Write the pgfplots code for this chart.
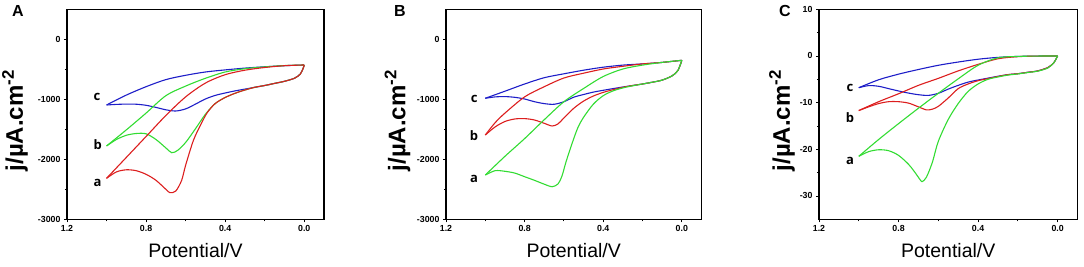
\documentclass[border=0pt]{standalone}
\usepackage{fontspec}
\setmainfont{Liberation Sans}
\newfontfamily\lblfont{Open Sans}
\usepackage{pgfplots}
\pgfplotsset{compat=1.18}
\definecolor{cvred}{RGB}{220,30,30}
\definecolor{cvgreen}{RGB}{50,220,50}
\definecolor{cvblue}{RGB}{30,30,200}
\pgfplotsset{
 cvaxis/.style={
  scale only axis, height=210pt,
  x dir=reverse, xmin=-0.1, xmax=1.2,
  xtick={0,0.4,0.8,1.2}, minor x tick num=1, minor y tick num=1,
  xtick pos=left, ytick pos=left,
  tick align=outside, major tick length=3pt, minor tick length=2pt,
  every tick/.style={black, line width=0.9pt},
  axis line style={line width=1.2pt},
  tick label style={font=\fontsize{8.8}{10}\selectfont\bfseries},
  /pgf/number format/assume math mode=true,
  xticklabel style={/pgf/number format/.cd, fixed, fixed zerofill, precision=1},
  yticklabel style={/pgf/number format/.cd, 1000 sep={}},
  xlabel={Potential/V},
  xlabel style={font=\fontsize{19.5}{22}\selectfont, at={(axis description cs:0.5,0)}, anchor=base, yshift=-38pt},
  ylabel={j/µA.cm\textsuperscript{-2}},
  ylabel style={font=\fontsize{24}{26}\selectfont\bfseries, anchor=center},
  every axis plot/.append style={smooth, line width=1.1pt, mark=none},
 },
}
\tikzset{lbl/.style={font=\lblfont\bfseries\fontsize{13}{15}\selectfont}}
\begin{document}
\begin{tikzpicture}
\useasboundingbox (0,0) rectangle (1084pt,267pt);
\node[font=\bfseries\fontsize{16}{18}\selectfont] at (18pt,256pt) {A};
\node[font=\bfseries\fontsize{16}{18}\selectfont] at (400pt,256pt) {B};
\node[font=\bfseries\fontsize{16}{18}\selectfont] at (785pt,256pt) {C};
% ---------------- Panel A
\begin{axis}[cvaxis, at={(67pt,47.7pt)}, anchor=south west, width=257pt,
  ymin=-3000, ymax=500, ytick={-3000,-2000,-1000,0},
  ylabel style={at={(axis description cs:-0.202,0.47)}}]
% blue c
\addplot[cvblue] coordinates {(0,-428) (0.1,-440) (0.2,-458) (0.3,-480) (0.4,-510) (0.5,-545) (0.6,-600) (0.7,-672) (0.8,-790) (0.9,-930) (1.0,-1095)};
\addplot[cvblue] coordinates {(1.0,-1095) (0.95,-1085) (0.9,-1080) (0.85,-1082) (0.8,-1100) (0.75,-1135) (0.7,-1175) (0.65,-1195) (0.6,-1160) (0.55,-1080) (0.5,-995) (0.45,-935) (0.4,-895) (0.35,-860) (0.3,-830) (0.25,-800) (0.2,-770) (0.15,-735) (0.1,-700) (0.05,-650) (0.02,-580) (0.005,-480) (0,-428)};
% green b
\addplot[cvgreen] coordinates {(0,-428) (0.1,-438) (0.2,-460) (0.3,-490) (0.4,-545) (0.5,-650) (0.6,-780) (0.7,-940) (0.8,-1230) (0.9,-1510) (1.0,-1778)};
\addplot[cvgreen] coordinates {(1.0,-1778) (0.95,-1670) (0.9,-1600) (0.85,-1570) (0.8,-1575) (0.75,-1670) (0.7,-1810) (0.67,-1890) (0.64,-1850) (0.6,-1720) (0.55,-1490) (0.5,-1250) (0.45,-1070) (0.4,-970) (0.35,-900) (0.3,-845) (0.25,-800) (0.2,-770) (0.15,-735) (0.1,-700) (0.05,-650) (0.02,-580) (0.005,-480) (0,-428)};
% red a
\addplot[cvred] coordinates {(0,-428) (0.1,-440) (0.2,-470) (0.3,-515) (0.4,-590) (0.5,-730) (0.6,-960) (0.7,-1270) (0.8,-1620) (0.9,-1969) (1.0,-2317)};
\addplot[cvred] coordinates {(1.0,-2317) (0.95,-2210) (0.9,-2175) (0.85,-2190) (0.8,-2250) (0.75,-2350) (0.7,-2500) (0.68,-2555) (0.65,-2530) (0.62,-2350) (0.6,-2100) (0.56,-1680) (0.52,-1400) (0.49,-1220) (0.45,-1070) (0.4,-970) (0.35,-900) (0.3,-845) (0.25,-800) (0.2,-770) (0.15,-735) (0.1,-700) (0.05,-650) (0.02,-580) (0.005,-480) (0,-428)};
\node[lbl] at (axis cs:1.048,-962) {c};
\node[lbl] at (axis cs:1.045,-1762) {b};
\node[lbl] at (axis cs:1.045,-2395) {a};
\end{axis}
% ---------------- Panel B
\begin{axis}[cvaxis, at={(446pt,47.7pt)}, anchor=south west, width=255.5pt,
  ymin=-3000, ymax=500, ytick={-3000,-2000,-1000,0},
  ylabel style={at={(axis description cs:-0.19,0.47)}}]
% blue c
\addplot[cvblue] coordinates {(0,-350) (0.1,-385) (0.2,-410) (0.3,-430) (0.4,-465) (0.5,-515) (0.6,-575) (0.7,-640) (0.8,-745) (0.9,-865) (1.0,-983)};
\addplot[cvblue] coordinates {(1.0,-983) (0.95,-960) (0.9,-955) (0.85,-967) (0.8,-995) (0.75,-1040) (0.7,-1072) (0.65,-1083) (0.6,-1040) (0.55,-965) (0.5,-920) (0.45,-880) (0.4,-850) (0.35,-822) (0.3,-795) (0.25,-770) (0.2,-745) (0.15,-715) (0.1,-680) (0.05,-610) (0.02,-520) (0,-350)};
% red b
\addplot[cvred] coordinates {(0,-350) (0.1,-385) (0.2,-410) (0.3,-450) (0.4,-495) (0.5,-565) (0.6,-645) (0.7,-790) (0.8,-960) (0.9,-1230) (0.95,-1390) (1.0,-1595)};
\addplot[cvred] coordinates {(1.0,-1595) (0.95,-1460) (0.9,-1370) (0.85,-1328) (0.8,-1322) (0.75,-1345) (0.7,-1400) (0.66,-1445) (0.63,-1410) (0.6,-1310) (0.55,-1150) (0.5,-1030) (0.45,-945) (0.4,-885) (0.35,-840) (0.3,-800) (0.25,-770) (0.2,-745) (0.15,-715) (0.1,-680) (0.05,-610) (0.02,-520) (0,-350)};
% green a
\addplot[cvgreen] coordinates {(0,-350) (0.1,-385) (0.2,-430) (0.3,-495) (0.4,-620) (0.5,-820) (0.6,-1040) (0.7,-1340) (0.8,-1655) (0.9,-1950) (1.0,-2262)};
\addplot[cvgreen] coordinates {(1.0,-2262) (0.95,-2190) (0.9,-2200) (0.85,-2230) (0.8,-2290) (0.75,-2350) (0.7,-2415) (0.66,-2457) (0.63,-2410) (0.61,-2280) (0.59,-2050) (0.56,-1750) (0.53,-1480) (0.5,-1300) (0.45,-1080) (0.4,-940) (0.35,-860) (0.3,-810) (0.25,-775) (0.2,-745) (0.15,-715) (0.1,-680) (0.05,-610) (0.02,-520) (0,-350)};
\node[lbl] at (axis cs:1.057,-995) {c};
\node[lbl] at (axis cs:1.057,-1612) {b};
\node[lbl] at (axis cs:1.057,-2328) {a};
\end{axis}
% ---------------- Panel C
\begin{axis}[cvaxis, at={(819pt,47.7pt)}, anchor=south west, width=258.5pt,
  ymin=-35, ymax=10, ytick={-30,-20,-10,0,10},
  ylabel style={at={(axis description cs:-0.143,0.47)}}]
% blue c
\addplot[cvblue] coordinates {(0,0) (0.1,-0.02) (0.2,-0.1) (0.3,-0.3) (0.4,-0.7) (0.5,-1.3) (0.6,-2.0) (0.7,-2.9) (0.8,-3.9) (0.9,-5.1) (1.0,-6.8)};
\addplot[cvblue] coordinates {(1.0,-6.8) (0.95,-6.35) (0.9,-6.5) (0.85,-7.0) (0.8,-7.5) (0.75,-7.95) (0.7,-8.3) (0.65,-8.45) (0.6,-8.0) (0.55,-7.1) (0.5,-6.3) (0.45,-5.6) (0.4,-5.15) (0.35,-4.75) (0.3,-4.35) (0.25,-4.0) (0.2,-3.8) (0.15,-3.5) (0.1,-3.2) (0.05,-2.5) (0.02,-1.5) (0,0)};
% red b
\addplot[cvred] coordinates {(0,0) (0.1,-0.03) (0.2,-0.15) (0.3,-0.6) (0.4,-1.8) (0.5,-3.2) (0.6,-4.8) (0.7,-6.3) (0.8,-8.1) (0.9,-9.8) (1.0,-11.7)};
\addplot[cvred] coordinates {(1.0,-11.7) (0.95,-10.9) (0.9,-10.2) (0.85,-9.8) (0.8,-9.8) (0.75,-10.1) (0.7,-10.9) (0.66,-11.55) (0.63,-11.4) (0.6,-10.8) (0.55,-9.0) (0.5,-7.0) (0.45,-6.0) (0.4,-5.3) (0.35,-4.85) (0.3,-4.4) (0.25,-4.0) (0.2,-3.8) (0.15,-3.5) (0.1,-3.2) (0.05,-2.5) (0.02,-1.5) (0,0)};
% green a
\addplot[cvgreen] coordinates {(0,0) (0.1,-0.02) (0.2,-0.1) (0.3,-0.4) (0.4,-2.0) (0.5,-4.9) (0.6,-8.0) (0.7,-11.2) (0.8,-14.5) (0.9,-17.9) (1.0,-21.5)};
\addplot[cvgreen] coordinates {(1.0,-21.5) (0.95,-20.5) (0.9,-20.1) (0.85,-20.3) (0.8,-21.3) (0.75,-23.2) (0.72,-24.8) (0.69,-26.6) (0.68,-26.9) (0.66,-26.0) (0.63,-22.8) (0.6,-18.3) (0.55,-13.6) (0.5,-10.2) (0.45,-7.6) (0.4,-6.0) (0.35,-5.0) (0.3,-4.5) (0.25,-4.1) (0.2,-3.85) (0.15,-3.55) (0.1,-3.25) (0.05,-2.6) (0.02,-1.5) (0,0)};
\node[lbl] at (axis cs:1.044,-6.9) {c};
\node[lbl] at (axis cs:1.044,-13.2) {b};
\node[lbl] at (axis cs:1.044,-22.4) {a};
\end{axis}
\end{tikzpicture}
\end{document}
